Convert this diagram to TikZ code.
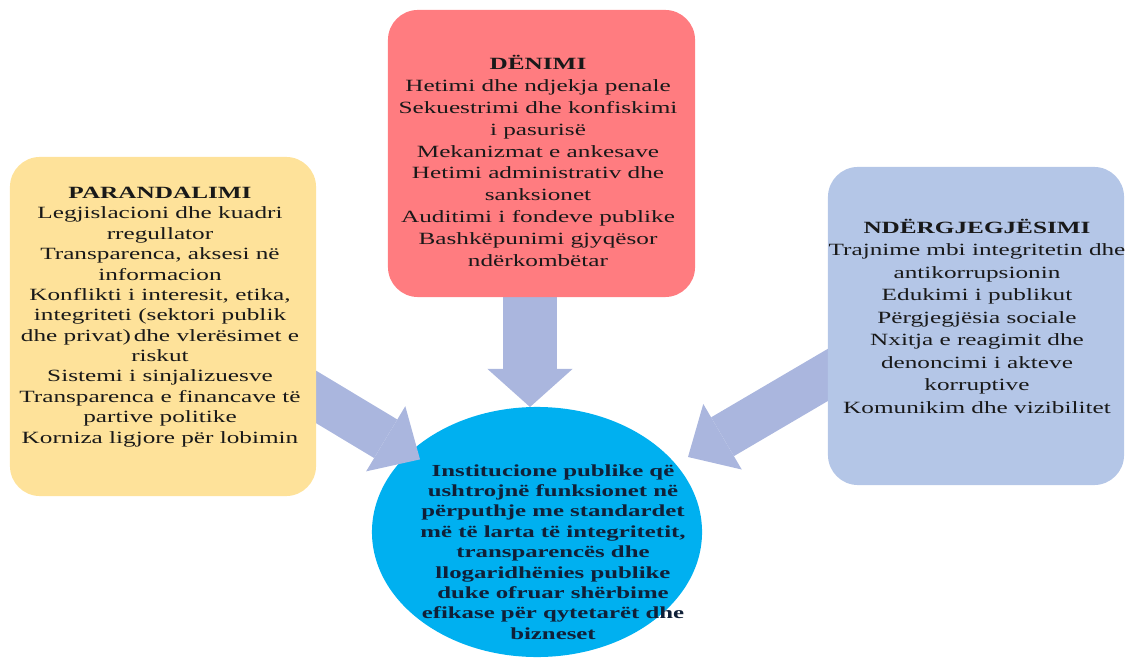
\documentclass[tikz,border=0pt]{standalone}
\usepackage{fontspec}
\setmainfont{Liberation Serif}[FakeStretch=1.47]
\usetikzlibrary{arrows.meta,shapes.geometric}
\definecolor{prevyellow}{RGB}{254,226,154}
\definecolor{punishred}{RGB}{255,124,128}
\definecolor{awareblue}{RGB}{180,198,231}
\definecolor{arrowblue}{RGB}{170,182,222}
\definecolor{instcyan}{RGB}{0,176,240}
\definecolor{insttext}{RGB}{16,32,56}

\begin{document}
\begin{tikzpicture}[x=0.025cm,y=-0.025cm,
  box/.style={rounded corners=0.75cm,inner sep=0pt},
  boxtext/.style={align=center,text=black!90},
  slantarrow/.style={draw=arrowblue,line width=1.125cm,-{Triangle[length=1cm,width=1.9cm,line width=0pt]}},
  downarrow/.style={draw=arrowblue,line width=1.35cm,-{Triangle[length=0.95cm,width=2.125cm,line width=0pt]}}]
\useasboundingbox (0,0) rectangle (1129,661);
\node[ellipse,fill=instcyan,inner sep=0pt,minimum width=8.25cm,minimum height=6.25cm] (inst) at (537,532) {};
\coordinate (prevout) at (295.6,384.6);
\coordinate (prevtip) at (420,459.4);
\coordinate (punishout) at (530,280);
\coordinate (punishtip) at (530,407);
\coordinate (awareout) at (846.6,363.9);
\coordinate (awaretip) at (688,457);
\draw[slantarrow] (prevout) -- (prevtip);
\draw[downarrow] (punishout) -- (punishtip);
\draw[slantarrow] (awareout) -- (awaretip);
\node[box,fill=prevyellow,minimum width=7.65cm,minimum height=8.475cm] (prev) at (163,326.5) {};
\node[box,fill=punishred,minimum width=7.675cm,minimum height=7.175cm] (punish) at (541.5,153.5) {};
\node[box,fill=awareblue,minimum width=7.4cm,minimum height=7.95cm] (aware) at (976,326) {};
\node[boxtext,font=\fontsize{12.2}{14.5}\selectfont] (prevtext) at (160,317) {\textbf{PARANDALIMI}\\
  Legjislacioni dhe kuadri\\
  rregullator\\
  Transparenca, aksesi në\\
  informacion\\
  Konflikti i interesit, etika,\\
  integriteti (sektori publik\\
  dhe privat)\,dhe vlerësimet e\\
  riskut\\
  Sistemi i sinjalizuesve\\
  Transparenca e financave të\\
  partive politike\\
  Korniza ligjore për lobimin};
\node[boxtext,font=\fontsize{12.2}{15.5}\selectfont] (punishtext) at (538,161) {\textbf{DËNIMI}\\
  Hetimi dhe ndjekja penale\\
  Sekuestrimi dhe konfiskimi\\
  i pasurisë\\
  Mekanizmat e ankesave\\
  Hetimi administrativ dhe\\
  sanksionet\\
  Auditimi i fondeve publike\\
  Bashkëpunimi gjyqësor\\
  ndërkombëtar};
\node[boxtext,font=\fontsize{12.2}{16}\selectfont] (awaretext) at (977,316) {\textbf{NDËRGJEGJËSIMI}\\
  Trajnime mbi integritetin dhe\\
  antikorrupsionin\\
  Edukimi i publikut\\
  Përgjegjësia sociale\\
  Nxitja e reagimit dhe\\
  denoncimi i akteve\\
  korruptive\\
  Komunikim dhe vizibilitet};
\node[boxtext,text=insttext,font=\fontsize{12}{14.5}\selectfont\bfseries] (insttext) at (553,552) {Institucione publike që\\
  ushtrojnë funksionet në\\
  përputhje me standardet\\
  më të larta të integritetit,\\
  transparencës dhe\\
  llogaridhënies publike\\
  duke ofruar shërbime\\
  efikase për qytetarët dhe\\
  bizneset};
\end{tikzpicture}
\end{document}
